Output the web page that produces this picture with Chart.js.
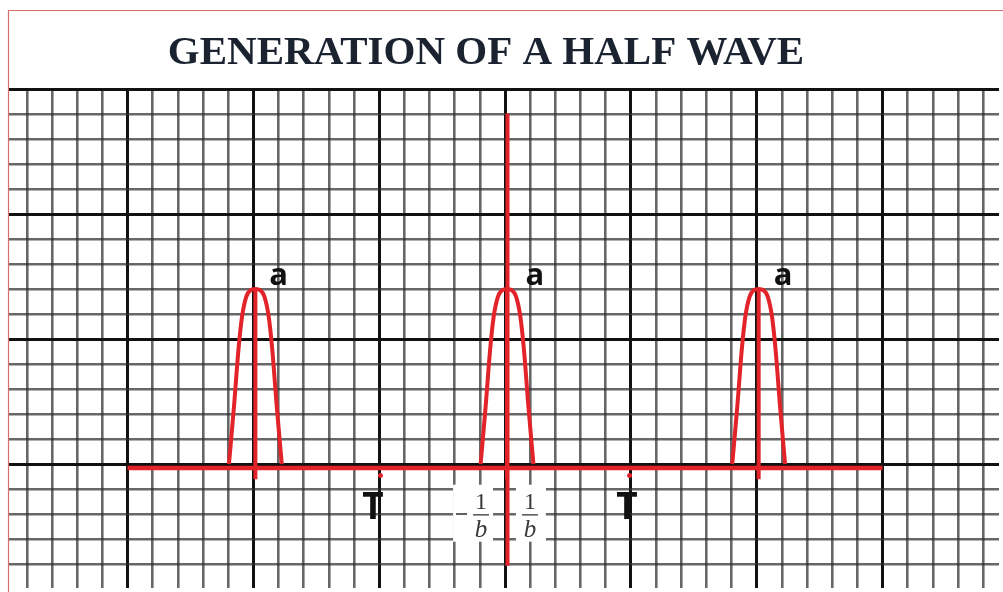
<!DOCTYPE html>
<html>
<head>
<meta charset="utf-8">
<script src="https://cdn.jsdelivr.net/npm/chart.js@4.4.1/dist/chart.umd.min.js"></script>
<style>
  html, body { margin: 0; padding: 0; background: #ffffff; overflow: hidden; width: 1003px; height: 592px; }
  #wrap { position: absolute; left: -31px; top: 0; width: 1034px; height: 592px; }
</style>
</head>
<body>
<div id="wrap"><canvas id="c" width="1034" height="592"></canvas></div>
<script>
// ---- data (units = one small grid square) ----
const titleText = 'GENERATION OF A HALF WAVE';
const pulseCenters = [-9.92, 0.08, 10.08];
const pulseOffsets = [-1.05, -0.85, -0.67, -0.53, -0.36, -0.2, 0, 0.2, 0.36, 0.53, 0.67, 0.85, 1.05];
const pulseHeights = [0, 2.3, 4.6, 5.9, 6.7, 6.95, 7, 6.95, 6.7, 5.9, 4.6, 2.3, 0];
const stemY = [-0.6, 7];
const baselineX = [-15, 15];
const baselineY = [-0.15, -0.15];
const axisX = [0.1, 0.1];
const axisY = [-4.06, 14.02];
const periodX = [-4.95, 4.95];
const periodY = [-0.45, -0.45];
const periodLabels = ['T', 'T'];
const peakLabels = ['a', 'a', 'a'];
const fractionLabels = ['\u22121/b', '1/b'];

// grid tick values (every small square, heavy line every 5)
const gridX = []; for (let v = -19; v <= 19; v++) gridX.push(v);
const gridY = []; for (let v = -4; v <= 15; v++) gridY.push(v);

const RED = 'rgb(226,36,42)';

const datasets = [];
datasets.push({ data: baselineX.map((x, i) => ({ x, y: baselineY[i] })), borderColor: RED, borderWidth: 4.5, showLine: true, pointRadius: 0 });
datasets.push({ data: axisX.map((x, i) => ({ x, y: axisY[i] })), borderColor: RED, borderWidth: 4, showLine: true, pointRadius: 0 });
pulseCenters.forEach(c => {
  datasets.push({ data: pulseOffsets.map((o, i) => ({ x: c + o, y: pulseHeights[i] })), borderColor: RED, borderWidth: 4, showLine: true, pointRadius: 0, cubicInterpolationMode: 'monotone' });
  datasets.push({ data: stemY.map(y => ({ x: c, y })), borderColor: RED, borderWidth: 4, showLine: true, pointRadius: 0 });
});
datasets.push({ data: periodX.map((x, i) => ({ x, y: periodY[i] })), borderColor: RED, backgroundColor: RED, showLine: false, pointRadius: 2.5, pointBorderWidth: 0 });

const annot = {
  id: 'annot',
  afterDatasetsDraw(chart) {
    const ctx = chart.ctx, xs = chart.scales.x, ys = chart.scales.y;
    ctx.save();
    // peak labels "a"
    const aPos = [-9.0, 1.19, 11.05];
    ctx.fillStyle = '#111';
    ctx.font = 'bold 31px "Open Sans"';
    ctx.textAlign = 'center'; ctx.textBaseline = 'alphabetic';
    peakLabels.forEach((t, i) => ctx.fillText(t, xs.getPixelForValue(aPos[i]), ys.getPixelForValue(7.18)));
    // period labels "T"
    const tPos = [-5.25, 4.85];
    ctx.font = 'bold 37px "Open Sans"';
    periodLabels.forEach((t, i) => ctx.fillText(t, xs.getPixelForValue(tPos[i]), ys.getPixelForValue(-2.18)));
    // fraction labels in white boxes
    const fPos = [-1.27, 1.03];
    const fW = [40, 30];
    const cy = ys.getPixelForValue(-1.96);
    fractionLabels.forEach((lab, i) => {
      const cx = xs.getPixelForValue(fPos[i]);
      const w = fW[i], h = 57;
      ctx.fillStyle = '#ffffff';
      ctx.fillRect(cx - w / 2, cy - h / 2, w, h);
      const neg = lab.charAt(0) === '\u2212';
      const parts = (neg ? lab.slice(1) : lab).split('/');
      const fx = neg ? cx + w / 2 - 12 : cx - 1;
      ctx.fillStyle = '#3a3a3a';
      if (neg) {
        ctx.fillRect(cx - w / 2 + 3, cy, 11, 1.6);
      }
      ctx.font = '24px "Liberation Serif"';
      ctx.textAlign = 'center'; ctx.textBaseline = 'alphabetic';
      ctx.fillText(parts[0], fx, cy - 4);
      ctx.fillRect(fx - 8, cy + 1, 16, 1.3);
      ctx.font = 'italic 25px "Liberation Serif"';
      ctx.fillText(parts[1], fx, cy + 24);
    });
    ctx.restore();
  },
  afterDraw(chart) {
    const ctx = chart.ctx, a = chart.chartArea;
    ctx.save();
    ctx.strokeStyle = 'rgb(214,110,110)';
    ctx.lineWidth = 1.2;
    ctx.beginPath();
    ctx.moveTo(a.left + 0.5, chart.height);
    ctx.lineTo(a.left + 0.5, 10.5);
    ctx.lineTo(chart.width, 10.5);
    ctx.stroke();
    ctx.restore();
  }
};

const gridColor = c => (c.tick && c.tick.value % 5 === 0) ? '#111111' : 'rgba(45,45,45,0.72)';
const gridWidth = c => (c.tick && c.tick.value % 5 === 0) ? 3 : 2.6;

new Chart(document.getElementById('c'), {
  type: 'scatter',
  data: { datasets },
  options: {
    responsive: false,
    animation: false,
    devicePixelRatio: 1,
    layout: { padding: 0 },
    plugins: {
      legend: { display: false },
      tooltip: { enabled: false },
      title: {
        display: true,
        text: titleText,
        color: '#1b2330',
        font: { family: '"Liberation Serif", "Times New Roman", serif', size: 41, weight: 'bold', lineHeight: 1.2 },
        padding: { top: 29, bottom: 9.8 }
      }
    },
    scales: {
      x: {
        type: 'linear', min: -19.75, max: 19.63,
        afterBuildTicks: s => { s.ticks = gridX.map(v => ({ value: v })); },
        afterFit: s => { s.height = 0; },
        ticks: { display: false },
        border: { display: false },
        grid: { drawTicks: false, color: gridColor, lineWidth: gridWidth }
      },
      y: {
        type: 'linear', min: -4.95, max: 15.04,
        afterBuildTicks: s => { s.ticks = gridY.map(v => ({ value: v })); },
        afterFit: s => { s.width = 39; },
        ticks: { display: false },
        border: { display: false },
        grid: { drawTicks: false, color: gridColor, lineWidth: gridWidth }
      }
    }
  },
  plugins: [annot]
});
</script>
</body>
</html>
